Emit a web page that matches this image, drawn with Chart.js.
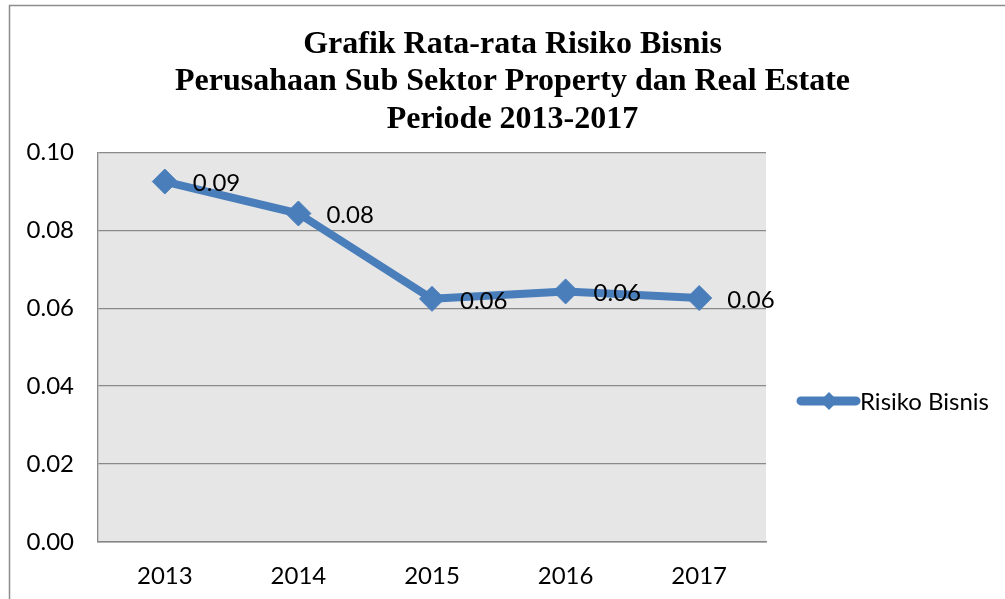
<!DOCTYPE html>
<html>
<head>
<meta charset="utf-8">
<script src="https://cdn.jsdelivr.net/npm/chart.js@4.4.1/dist/chart.umd.min.js"></script>
<style>
  html, body { margin: 0; padding: 0; background: #fff; overflow: hidden; }
  #wrap { position: absolute; left: 0; top: 0; }
</style>
</head>
<body>
<div id="wrap"><canvas id="chart" width="1025" height="610"></canvas></div>
<script>
const years = ['2013', '2014', '2015', '2016', '2017'];
const risikoBisnis = [0.0925, 0.0843, 0.0624, 0.0643, 0.0626];
const yTicks = [0, 0.02, 0.04, 0.06, 0.08, 0.10];
const seriesName = 'Risiko Bisnis';
const titleLines = [
  'Grafik Rata-rata Risiko Bisnis',
  'Perusahaan Sub Sektor Property dan Real Estate',
  'Periode 2013-2017'
];

const blue = '#4a7ebb';
const sans = 'Lato, "Open Sans", sans-serif';

// outer frame + grey plot background
const framePlugin = {
  id: 'frame',
  beforeDraw(chart) {
    const { ctx, chartArea: a } = chart;
    ctx.save();
    ctx.fillStyle = '#fff';
    ctx.fillRect(0, 0, chart.width, chart.height);
    ctx.strokeStyle = '#8c8c8c';
    ctx.lineWidth = 1.5;
    ctx.strokeRect(9.5, 5.5, chart.width - 19, chart.height);
    ctx.fillStyle = '#e6e6e6';
    ctx.fillRect(a.left, a.top, a.right - a.left, a.bottom - a.top);
    ctx.restore();
  }
};

// value labels right of each point
const valueLabels = {
  id: 'valueLabels',
  afterDatasetsDraw(chart) {
    const { ctx } = chart;
    const meta = chart.getDatasetMeta(0);
    ctx.save();
    ctx.font = '24px ' + sans;
    ctx.fillStyle = '#000';
    ctx.textAlign = 'left';
    ctx.textBaseline = 'middle';
    meta.data.forEach((pt, i) => {
      ctx.fillText(risikoBisnis[i].toFixed(2), pt.x + 28, pt.y + 2);
    });
    ctx.restore();
  }
};

// excel style legend on the right
const sideLegend = {
  id: 'sideLegend',
  afterDraw(chart) {
    const { ctx, chartArea: a } = chart;
    const y = a.top + (a.bottom - a.top) * 0.638;
    const x0 = a.right + 35;
    ctx.save();
    ctx.strokeStyle = blue;
    ctx.lineWidth = 9;
    ctx.lineCap = 'round';
    ctx.beginPath();
    ctx.moveTo(x0, y);
    ctx.lineTo(x0 + 55, y);
    ctx.stroke();
    ctx.fillStyle = blue;
    ctx.beginPath();
    ctx.moveTo(x0 + 28, y - 9);
    ctx.lineTo(x0 + 37, y);
    ctx.lineTo(x0 + 28, y + 9);
    ctx.lineTo(x0 + 19, y);
    ctx.closePath();
    ctx.fill();
    ctx.font = '24px ' + sans;
    ctx.fillStyle = '#000';
    ctx.textBaseline = 'middle';
    ctx.fillText(seriesName, x0 + 59, y + 1);
    ctx.restore();
  }
};

new Chart(document.getElementById('chart'), {
  type: 'line',
  data: {
    labels: years,
    datasets: [{
      label: seriesName,
      data: risikoBisnis,
      borderColor: blue,
      backgroundColor: blue,
      borderWidth: 8,
      borderJoinStyle: 'round',
      tension: 0,
      pointStyle: 'rectRot',
      pointRadius: 12.5,
      pointHoverRadius: 12.5,
      pointBorderWidth: 1,
      pointBackgroundColor: blue,
      pointBorderColor: blue
    }]
  },
  options: {
    responsive: false,
    animation: false,
    devicePixelRatio: 1,
    layout: { padding: 0 },
    plugins: {
      legend: { display: false },
      tooltip: { enabled: false },
      title: {
        display: true,
        text: titleLines,
        color: '#000',
        font: { family: '"Liberation Serif", "Times New Roman", serif', size: 32, weight: 'bold', lineHeight: 1.17 },
        padding: { top: 26, bottom: 14 }
      }
    },
    scales: {
      x: {
        offset: true,
        grid: { display: false, drawTicks: false },
        border: { display: true, color: '#868686', width: 1.5 },
        ticks: { color: '#000', font: { family: sans, size: 24 }, padding: 20 },
        afterFit(s) { s.height = 68; }
      },
      y: {
        min: 0,
        max: 0.1,
        grid: { color: '#8a8a8a', lineWidth: 1.3, drawTicks: false },
        border: { display: true, color: '#8a8a8a', width: 1.3 },
        ticks: {
          color: '#000',
          font: { family: sans, size: 24 },
          padding: 24,
          callback: v => v.toFixed(2)
        },
        afterBuildTicks(s) { s.ticks = yTicks.map(v => ({ value: v })); },
        afterFit(s) { s.width = 98; }
      },
      // empty right-hand box that keeps room for the legend
      legendSpace: {
        type: 'linear',
        position: 'right',
        display: true,
        grid: { display: false, drawTicks: false },
        border: { display: false },
        ticks: { display: false },
        afterFit(s) { s.width = 259; }
      }
    }
  },
  plugins: [framePlugin, valueLabels, sideLegend]
});
</script>
</body>
</html>
